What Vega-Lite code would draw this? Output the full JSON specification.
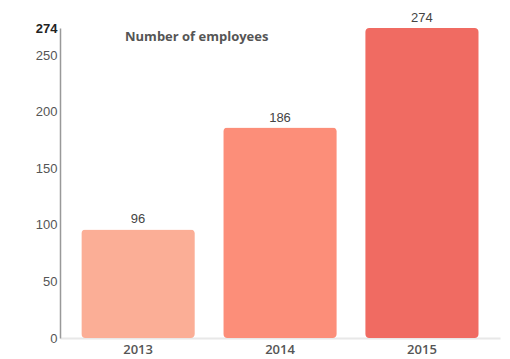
{
  "$schema": "https://vega.github.io/schema/vega-lite/v6.json",
  "autosize": {"type": "none"},
  "padding": {"left": 60, "top": 28, "right": 10, "bottom": 21},
  "width": 440,
  "height": 310,
  "background": "white",
  "title": {
    "text": "Number of employees",
    "anchor": "start",
    "frame": "group",
    "orient": "top",
    "dx": 65,
    "dy": 38,
    "offset": 0,
    "baseline": "middle",
    "font": "Open Sans",
    "fontSize": 13,
    "fontWeight": "bold",
    "color": "#555555"
  },
  "data": {
    "values": [
      {"year": "2013", "employees": 96},
      {"year": "2014", "employees": 186},
      {"year": "2015", "employees": 274}
    ]
  },
  "config": {"view": {"stroke": null}},
  "encoding": {
    "x": {
      "field": "year",
      "type": "nominal",
      "sort": null,
      "scale": {"paddingInner": 0.2, "paddingOuter": 0.15},
      "axis": {
        "title": null,
        "labelAngle": 0,
        "labelFont": "Open Sans",
        "labelFontSize": 13,
        "labelFontWeight": 600,
        "labelColor": "#555555",
        "labelPadding": 5,
        "ticks": false,
        "domainColor": "#e8e8e8",
        "domainWidth": 2
      }
    },
    "y": {
      "field": "employees",
      "type": "quantitative",
      "scale": {"domain": [0, 274], "nice": false},
      "axis": {
        "title": null,
        "values": [0, 50, 100, 150, 200, 250, 274],
        "grid": false,
        "ticks": false,
        "labelFont": "Liberation Sans",
        "labelFontSize": 13,
        "labelColor": {"condition": {"test": "datum.value == 274", "value": "#222222"}, "value": "#555555"},
        "labelFontWeight": {"condition": {"test": "datum.value == 274", "value": "bold"}, "value": "normal"},
        "labelPadding": 3,
        "domainColor": "#999999",
        "domainWidth": 1.5
      }
    }
  },
  "layer": [
    {
      "mark": {"type": "bar", "cornerRadius": 4},
      "encoding": {
        "color": {
          "field": "year",
          "type": "nominal",
          "scale": {"domain": ["2013", "2014", "2015"], "range": ["#FBAE96", "#FC8E79", "#F06B62"]},
          "legend": null
        }
      }
    },
    {
      "mark": {"type": "text", "baseline": "bottom", "dy": -3, "font": "Liberation Sans", "fontSize": 13, "color": "#444444"},
      "encoding": {"text": {"field": "employees", "type": "quantitative"}}
    }
  ]
}
